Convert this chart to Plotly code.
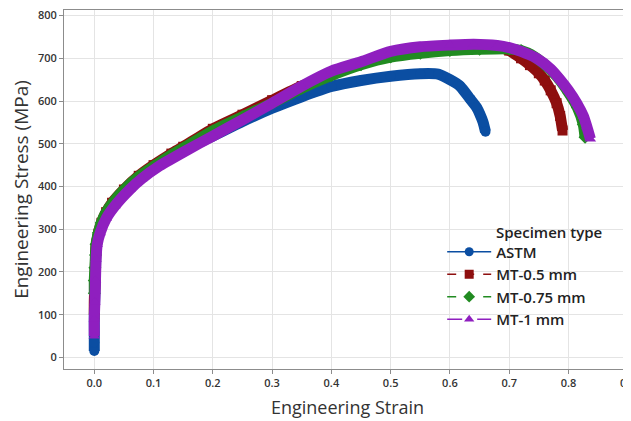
import plotly.graph_objects as go

# ---- data ----
astm_strain = [0, 0, 0, 0, 0.001, 0.002, 0.003, 0.006, 0.015, 0.03, 0.05, 0.08, 0.11, 0.15, 0.2, 0.25,
               0.3, 0.35, 0.4, 0.45, 0.5, 0.55, 0.58, 0.6, 0.617, 0.634, 0.645, 0.651, 0.656, 0.66]
astm_stress = [15, 35, 60, 100, 150, 200, 250, 285, 320, 355, 390, 425, 452, 485, 518, 552,
               583, 610, 634, 648, 658, 664, 663, 650, 635, 605, 585, 568, 550, 528]

mt05_strain = [0, 0, 0.001, 0.002, 0.003, 0.007, 0.012, 0.02, 0.03, 0.05, 0.075, 0.1, 0.13, 0.15, 0.2,
               0.25, 0.3, 0.35, 0.4, 0.45, 0.5, 0.55, 0.6, 0.65, 0.68, 0.7, 0.72, 0.735, 0.75, 0.76,
               0.77, 0.78, 0.786, 0.79]
mt05_stress = [100, 130, 170, 220, 260, 290, 315, 340, 362, 393, 425, 450, 477, 493, 535,
               568, 602, 635, 662, 687, 708, 720, 727, 728, 726, 718, 700, 684, 665, 648,
               625, 595, 565, 531]

mt075_strain = [0, 0, 0.001, 0.002, 0.003, 0.007, 0.012, 0.02, 0.03, 0.05, 0.075, 0.1, 0.13, 0.15, 0.2,
                0.25, 0.3, 0.35, 0.4, 0.45, 0.5, 0.55, 0.6, 0.65, 0.7, 0.72, 0.74, 0.76, 0.78, 0.8,
                0.815, 0.825, 0.828]
mt075_stress = [150, 180, 210, 240, 265, 292, 316, 340, 360, 392, 423, 447, 474, 490, 530,
                563, 595, 630, 660, 685, 703, 712, 718, 721, 722, 718, 706, 685, 658, 620,
                585, 545, 515]

mt1_strain = [0, 0, 0.001, 0.002, 0.003, 0.005, 0.01, 0.02, 0.035, 0.06, 0.08, 0.11, 0.155, 0.2, 0.25,
              0.3, 0.35, 0.4, 0.45, 0.5, 0.55, 0.6, 0.64, 0.68, 0.7, 0.72, 0.746, 0.77, 0.786, 0.8,
              0.814, 0.825, 0.831, 0.837]
mt1_stress = [50, 90, 130, 180, 230, 265, 292, 325, 355, 393, 418, 448, 484, 518, 556,
              595, 635, 670, 692, 716, 727, 731, 733, 730, 725, 716, 700, 675, 650, 625,
              595, 565, 540, 511]

series_names = ["ASTM", "MT-0.5 mm", "MT-0.75 mm", "MT-1 mm"]
x_ticks = [0.0, 0.1, 0.2, 0.3, 0.4, 0.5, 0.6, 0.7, 0.8, 0.9]
y_ticks = [0, 100, 200, 300, 400, 500, 600, 700, 800]

colors = ["#0B4EA2", "#8E0F0F", "#218B21", "#8F1FBF"]
symbols = ["circle", "square", "diamond", "triangle-up"]
dashes = ["solid", "dash", "dash", "longdash"]

data = [(astm_strain, astm_stress), (mt05_strain, mt05_stress),
        (mt075_strain, mt075_stress), (mt1_strain, mt1_stress)]

fig = go.Figure()
for (xs, ys), name, c, s in zip(data, series_names, colors, symbols):
    fig.add_trace(go.Scatter(
        x=xs, y=ys, mode="lines+markers", name=name, legendgroup=name, showlegend=False,
        line=dict(color=c, width=11, shape="spline", smoothing=0.6),
        marker=dict(color=c, symbol=s, size=10),
    ))
for name, c, s, d in zip(series_names, colors, symbols, dashes):
    fig.add_trace(go.Scatter(
        x=[None], y=[None], mode="lines+markers", name=name, legendgroup=name,
        line=dict(color=c, width=1.5, dash=d),
        marker=dict(color=c, symbol=s, size=9),
    ))

font_family = "Open Sans, Noto Sans, sans-serif"
# page body has an 8px margin, so the figure is sized to fit the 631x421 window
fig.update_layout(
    width=623, height=413,
    margin=dict(l=56, r=0, t=2, b=52, autoexpand=False),
    paper_bgcolor="white", plot_bgcolor="white",
    font=dict(family=font_family, color="#333333"),
    showlegend=True,
    legend=dict(x=0.667, y=0.372, xanchor="left", yanchor="top",
                bgcolor="rgba(0,0,0,0)", font=dict(size=15, color="#222222", weight=600),
                itemwidth=44, tracegroupgap=0),
    annotations=[dict(text="Specimen type", xref="paper", yref="paper",
                      x=0.758, y=0.382, xanchor="left", yanchor="middle", showarrow=False,
                      font=dict(size=15, color="#222222", family=font_family, weight=600))],
)
fig.update_xaxes(
    automargin=False, ticklabeloverflow="allow",
    range=[-0.0511, 0.9055], tickvals=x_ticks, tickformat=".1f",
    showgrid=True, gridcolor="#e4e4e4", gridwidth=1, zeroline=False,
    showline=True, linecolor="#8c8c8c", linewidth=1, mirror=True,
    ticks="outside", ticklen=4, tickcolor="#8c8c8c",
    tickfont=dict(size=11, color="#333333", weight=600),
    title=dict(text="Engineering Strain", font=dict(size=18, color="#333333"), standoff=12),
)
fig.update_yaxes(
    automargin=False, ticklabeloverflow="allow",
    range=[-27, 813], tickvals=y_ticks,
    showgrid=True, gridcolor="#e4e4e4", gridwidth=1, zeroline=False,
    showline=True, linecolor="#8c8c8c", linewidth=1,
    ticks="outside", ticklen=4, tickcolor="#8c8c8c",
    tickfont=dict(size=11, color="#333333", weight=600),
    title=dict(text="Engineering Stress (MPa)", font=dict(size=19, color="#333333"), standoff=6),
)

fig.write_html("out.html")
